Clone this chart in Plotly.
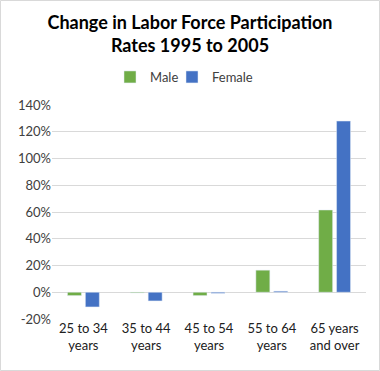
import plotly.graph_objects as go

categories = ["25 to 34<br>years", "35 to 44<br>years", "45 to 54<br>years", "55 to 64<br>years", "65 years<br>and over"]
male = [-0.025, -0.005, -0.025, 0.165, 0.615]
female = [-0.11, -0.065, -0.008, 0.008, 1.28]
tick_vals = [-0.2, 0, 0.2, 0.4, 0.6, 0.8, 1.0, 1.2, 1.4]
tick_text = ["-20%", "0%", "20%", "40%", "60%", "80%", "100%", "120%", "140%"]

W, H = 380, 371
L, R, T, B = 52, 14, 105, 52

fig = go.Figure()
fig.add_trace(go.Bar(name="Male", x=categories, y=male, marker_color="#70AD47",
                     legend="legend", showlegend=True))
fig.add_trace(go.Bar(name="Female", x=categories, y=female, marker_color="#4472C4",
                     legend="legend2", showlegend=True))

pw, ph = W - L - R, H - T - B
fig.add_shape(type="rect", xref="paper", yref="paper",
              x0=(0.5 - L) / pw, x1=(W - 0.5 - L) / pw,
              y0=(B - 0.5) / -ph, y1=(H - B - 0.5) / ph,
              line=dict(color="#D9D9D9", width=1), layer="below")

leg_y = (H - B - 77) / ph
leg_common = dict(orientation="h", xanchor="left", y=leg_y, yanchor="middle", visible=True,
                  font=dict(size=13, color="#404040"), bgcolor="rgba(0,0,0,0)")

fig.update_layout(
    width=W, height=H, showlegend=True,
    margin=dict(l=L, r=R, t=T, b=B, autoexpand=False),
    paper_bgcolor="white", plot_bgcolor="white",
    barmode="group", bargap=0.43, bargroupgap=0.22,
    font=dict(family="Lato, Liberation Sans, sans-serif", color="#404040", size=12),
    title=dict(text="<b>Change in Labor Force Participation<br>Rates 1995 to 2005</b>",
               x=0.5, xref="container", xanchor="center",
               y=1 - 29 / H, yref="container", yanchor="middle",
               font=dict(size=18, color="#000000")),
    legend=dict(x=(110 - L) / pw, **leg_common),
    legend2=dict(x=(172 - L) / pw, **leg_common),
    yaxis=dict(range=[-0.2, 1.4], tickvals=tick_vals, ticktext=tick_text,
               showgrid=True, gridcolor="#D9D9D9", gridwidth=1, zeroline=False,
               showline=False, ticks="", tickfont=dict(size=13, color="#404040"), automargin=False),
    xaxis=dict(showline=False, ticks="", tickfont=dict(size=13, color="#202020"), automargin=False),
)
fig.write_html("out.html", config={"displayModeBar": False},
               post_script="document.body.style.margin='0';")
